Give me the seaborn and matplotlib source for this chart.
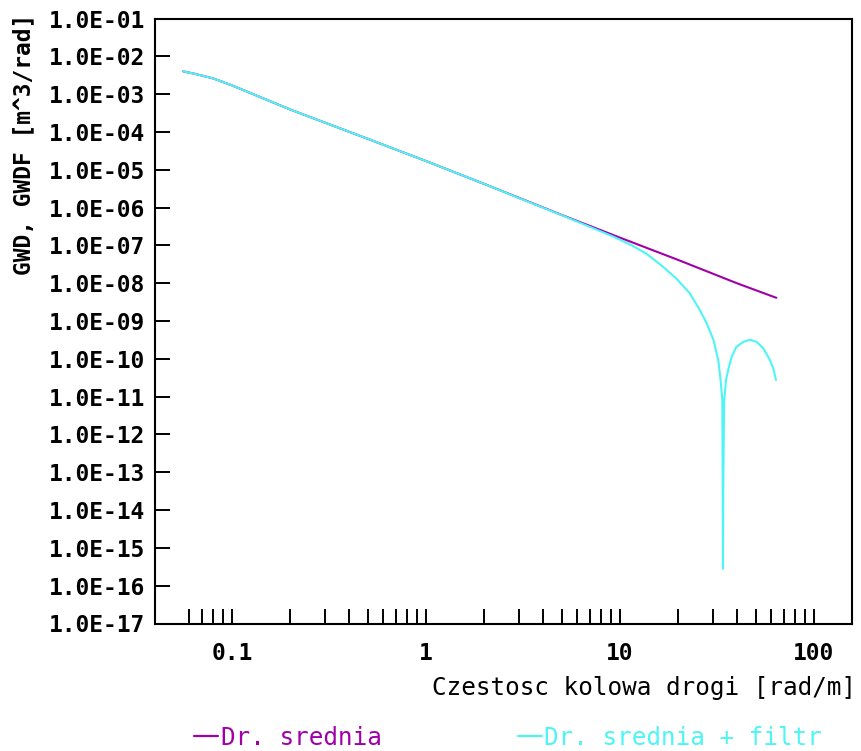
import numpy as np
import pandas as pd
import matplotlib
matplotlib.use("Agg")
import matplotlib.pyplot as plt
import seaborn as sns
from matplotlib.ticker import FixedLocator, FuncFormatter, NullFormatter
from matplotlib.lines import Line2D

# dane
x_srednia = [0.056, 0.065, 0.08, 0.1, 0.2, 0.5, 1, 2, 5, 10, 20, 40, 64]
y_srednia = [4.0e-3, 3.4e-3, 2.6e-3, 1.7e-3, 3.9e-4, 6.6e-5, 1.7e-5, 4.2e-6,
             6.4e-7, 1.6e-7, 4.1e-8, 1.0e-8, 4.1e-9]

x_filtr = [0.056, 0.065, 0.08, 0.1, 0.2, 0.5, 1, 2, 3, 5, 6.2, 9.25, 11.5,
           13.7, 16.7, 19.6, 22.9, 25.8, 28.0, 30.3, 32.1, 33.0, 33.7, 33.85,
           33.95, 34.05, 34.4, 35.2, 36.1, 37.6, 39.9, 43.2, 46.8, 50.6, 54.8,
           59.3, 61.7, 63.7]
y_filtr = [4.0e-3, 3.4e-3, 2.6e-3, 1.7e-3, 3.9e-4, 6.6e-5, 1.7e-5, 4.2e-6,
           1.8e-6, 6.3e-7, 4.0e-7, 1.7e-7, 1.0e-7, 6.0e-8, 2.7e-8, 1.3e-8,
           5.4e-9, 1.95e-9, 8.7e-10, 3.2e-10, 9.3e-11, 2.75e-11, 8.1e-12,
           4.0e-14, 2.8e-16, 3.2e-14, 7.0e-12, 2.75e-11, 5.0e-11, 1.12e-10,
           2.1e-10, 2.8e-10, 3.2e-10, 2.8e-10, 1.9e-10, 9.3e-11, 5.6e-11,
           2.75e-11]

etykiety = ["Dr. srednia", "Dr. srednia + filtr"]
kolory = ["#A000A8", "#4DF5F5"]

y_decades = [10.0 ** k for k in range(-17, 0)]
x_major = [0.1, 1, 10, 100]
x_labels = ["0.1", "1", "10", "100"]

sns.set_style("white")
plt.rcParams['font.family'] = ['DejaVu Sans Mono']
plt.rcParams['text.color'] = 'black'
plt.rcParams['xtick.color'] = 'black'
plt.rcParams['ytick.color'] = 'black'

fig = plt.figure(figsize=(8.61, 7.51), dpi=100)
ax = fig.add_axes([155 / 861, 1 - 623.5 / 751, 697 / 861, 605 / 751])

df1 = pd.DataFrame({"x": x_srednia, "y": y_srednia})
df2 = pd.DataFrame({"x": x_filtr, "y": y_filtr})
sns.lineplot(data=df1, x="x", y="y", color=kolory[0], lw=1.5, ax=ax, sort=False)
sns.lineplot(data=df2, x="x", y="y", color=kolory[1], lw=1.5, ax=ax, sort=False)

ax.set_xscale("log")
ax.set_yscale("log")
ax.set_xlim(10 ** -1.397, 10 ** 2.196)
ax.set_ylim(1e-17, 1e-1)

# osie
minor = [m * d for d in [0.01, 0.1, 1, 10] for m in range(2, 10)]
minor = [v for v in minor if 0.055 < v < 100]
ax.xaxis.set_major_locator(FixedLocator(x_major))
ax.xaxis.set_major_formatter(FuncFormatter(lambda v, p: x_labels[x_major.index(v)] if v in x_major else ""))
ax.xaxis.set_minor_locator(FixedLocator(minor))
ax.xaxis.set_minor_formatter(NullFormatter())
ax.yaxis.set_major_locator(FixedLocator(y_decades))
ax.yaxis.set_major_formatter(FuncFormatter(lambda v, p: f"{v:.1E}"))
ax.yaxis.set_minor_locator(FixedLocator([]))

ax.tick_params(axis="both", which="both", direction="in", color="black",
               labelcolor="black", width=1.4, labelsize=16.5,
               bottom=True, left=True, top=False, right=False)
ax.tick_params(axis="x", which="both", length=10.5, pad=13)
ax.tick_params(axis="y", which="major", length=11, pad=7)
for lab in ax.get_xticklabels() + ax.get_yticklabels():
    lab.set_fontweight("bold")

for s in ax.spines.values():
    s.set_visible(True)
    s.set_color("black")
    s.set_linewidth(1.5)

ax.set_xlabel("")
ax.set_ylabel("")

fig.text(24 / 861, 1 - 14 / 751, "GWD, GWDF [m^3/rad]", rotation=90,
         ha="center", va="top", fontsize=16.5, fontweight="bold", color="black")
fig.text(856 / 861, 1 - 688 / 751, "Czestosc kolowa drogi [rad/m]",
         ha="right", va="center", fontsize=17.5, color="black")

handles = [Line2D([], [], color=c, lw=1.6) for c in kolory]
fig.legend(handles, etykiety, loc="center", bbox_to_anchor=(508 / 861, 1 - 738 / 751),
           ncol=2, frameon=False, handlelength=1.0, handletextpad=0.1,
           columnspacing=5.6, labelcolor=kolory, fontsize=17.5)

fig.savefig("out.png", dpi=100, facecolor="white")
